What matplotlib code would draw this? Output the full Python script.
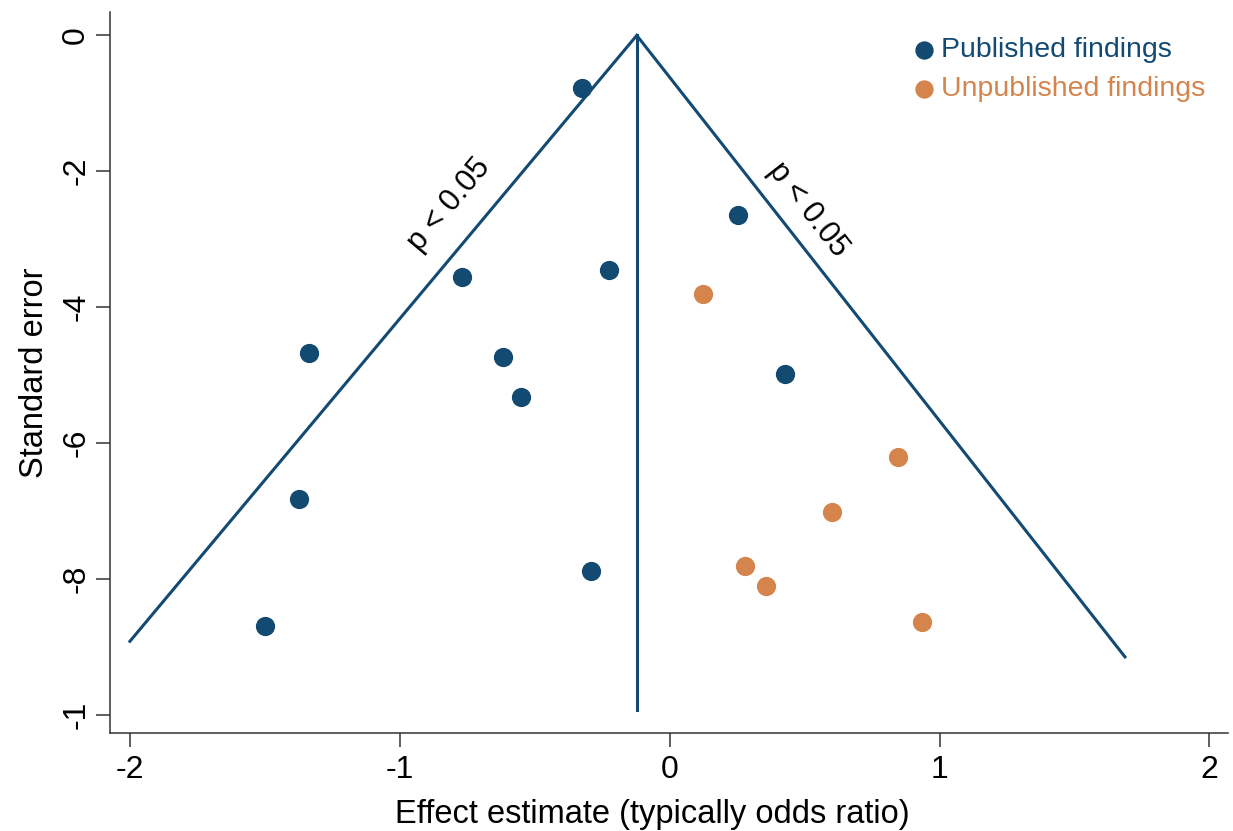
import matplotlib
matplotlib.use("Agg")
from matplotlib import pyplot as plt

plt.rcParams['font.family'] = ['Liberation Sans', 'DejaVu Sans']
plt.rcParams['axes.unicode_minus'] = False

# published findings (effect, -standard error)
pub_x = [-0.326, 0.252, -0.771, -0.226, -1.338, -0.619, -0.552, 0.426, -1.372, -0.293, -1.498]
pub_y = [-0.78, -2.65, -3.56, -3.45, -4.67, -4.73, -5.33, -4.99, -6.83, -7.89, -8.70]

# unpublished findings
unpub_x = [0.122, 0.845, 0.601, 0.278, 0.356, 0.934]
unpub_y = [-3.80, -6.21, -7.02, -7.81, -8.10, -8.64]

# funnel outline: left end, apex, right end
funnel_x = [-2.0, -0.122, 1.687]
funnel_y = [-8.92, 0.0, -9.15]
mid_x = [-0.122, -0.122]
mid_y = [0.0, -9.93]

xticks = [-2, -1, 0, 1, 2]
yticks = [0, -2, -4, -6, -8, -10]
ytick_labels = ['0', '-2', '-4', '-6', '-8', '-1']

blue = '#124a72'
orange = '#d5844c'

fig = plt.figure(figsize=(12.33, 8.31), dpi=100)
ax = fig.add_axes([0.0892, 0.118, 0.907, 0.868])

ax.plot(funnel_x, funnel_y, color=blue, lw=2.2, solid_joinstyle='miter')
ax.plot(mid_x, mid_y, color=blue, lw=2.2)

ax.scatter(pub_x, pub_y, s=165, color=blue, zorder=3, label='Published findings')
ax.scatter(unpub_x, unpub_y, s=165, color=orange, zorder=3, label='Unpublished findings')

ax.text(-0.816, -2.49, 'p < 0.05', rotation=50, fontsize=22, ha='center', va='center',
        rotation_mode='anchor')
ax.text(0.512, -2.56, 'p < 0.05', rotation=-52, fontsize=22, ha='center', va='center',
        rotation_mode='anchor')

ax.set_xlim(-2.074, 2.07)
ax.set_ylim(-10.27, 0.35)
ax.set_xticks(xticks)
ax.set_yticks(yticks)
ax.set_yticklabels(ytick_labels, rotation=90, va='center')
ax.tick_params(labelsize=23, length=10, width=1.1, color='#333333')
ax.tick_params(axis='x', pad=6)

for side in ['top', 'right']:
    ax.spines[side].set_visible(False)
for side in ['left', 'bottom']:
    ax.spines[side].set_linewidth(1.1)
    ax.spines[side].set_color('#333333')

ax.set_xlabel('Effect estimate (typically odds ratio)', fontsize=23.5)
ax.xaxis.set_label_coords(0.485, -0.092)
ax.set_ylabel('Standard error', fontsize=23.5, labelpad=8)

leg = ax.legend(loc='upper right', frameon=False, fontsize=20.5,
                handletextpad=0.1, borderaxespad=0.0, labelspacing=0.45,
                handlelength=1.0, markerscale=0.95, bbox_to_anchor=(0.99, 0.98))
for t, c in zip(leg.get_texts(), [blue, orange]):
    t.set_color(c)

fig.savefig('out.png', dpi=100)
